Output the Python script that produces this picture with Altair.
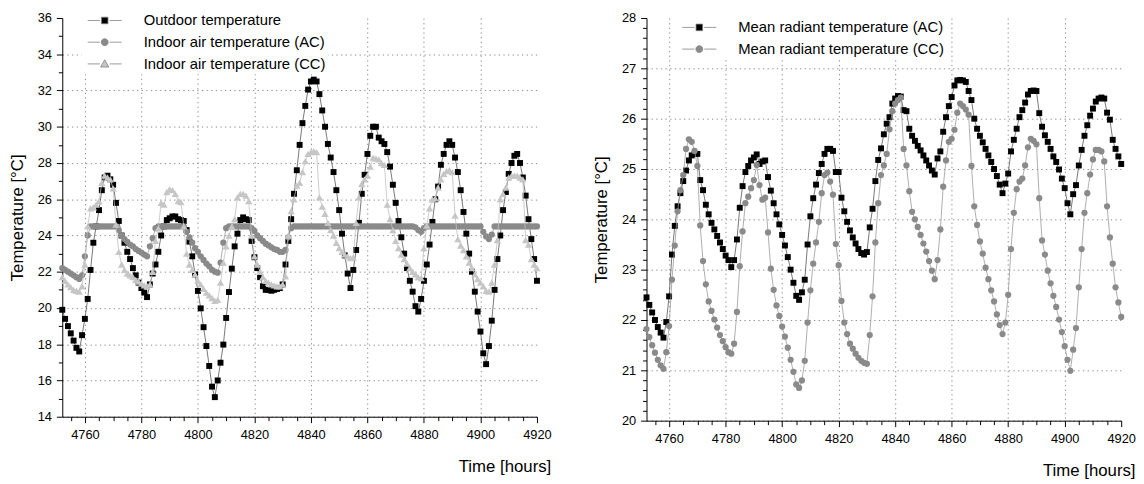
import altair as alt
import pandas as pd

START_HOUR = 4752  # first hourly sample; one value per hour up to 4920

# ---------------- left panel series (hourly, 4752 ... 4920) ----------------
outdoor_temp = [
    19.9, 19.4, 19.0, 18.6, 18.2, 17.8, 17.6, 18.5, 19.4, 20.5,
    22.1, 23.6, 24.5, 25.4, 26.5, 27.2, 27.3, 27.1, 26.8, 25.8,
    24.8, 24.0, 23.6, 23.1, 22.7, 22.2, 21.8, 21.4, 21.1, 20.85,
    20.6, 21.3, 21.9, 22.4, 23.1, 24.0, 24.5, 24.85, 24.95, 25.05,
    25.05, 24.9, 24.85, 24.8, 24.3, 23.66, 22.85, 21.85, 20.94, 19.98,
    18.94, 17.9, 16.8, 15.66, 15.08, 16.0, 16.98, 17.98, 19.45, 20.88,
    22.17, 23.4, 24.1, 24.85, 25.0, 24.9, 24.85, 23.7, 22.8, 22.2,
    21.7, 21.2, 21.0, 21.0, 20.95, 21.0, 21.05, 21.1, 21.3, 22.4,
    23.7, 24.9, 26.3, 27.6, 29.0, 30.2, 31.15, 32.05, 32.5, 32.6,
    32.5, 31.8, 30.9, 30.0, 29.05, 28.3, 27.5, 26.5, 25.4, 24.1,
    22.9, 21.9, 21.1, 22.1, 23.2, 24.7, 26.3, 27.35, 28.5, 29.5,
    30.0, 30.0, 29.4, 29.2, 29.05, 28.6, 27.8, 26.8, 25.8, 24.8,
    23.9, 23.0, 22.2, 21.5, 20.9, 20.1, 19.8, 20.5, 21.5, 22.4,
    23.5, 24.75, 26.0, 26.7, 27.9, 28.5, 29.0, 29.2, 29.0, 28.3,
    27.5, 26.5, 25.3, 24.1, 23.0, 22.0, 20.9, 19.8, 18.7, 17.5,
    16.9, 17.9, 19.3, 21.0, 22.7, 24.0, 25.4, 26.4, 27.4, 28.0,
    28.4, 28.5, 28.0, 27.2, 26.2, 24.9, 23.8, 22.7, 21.5,
]

indoor_ac = [
    22.2, 22.1, 22.0, 21.9, 21.8, 21.7, 21.6, 21.8, 22.85, 24.0,
    24.5, 24.5, 24.5, 24.5, 24.5, 24.5, 24.5, 24.5, 24.5, 24.5,
    24.3, 24.0, 23.8, 23.65, 23.5, 23.4, 23.25, 23.15, 23.05, 22.95,
    22.85, 23.4, 23.85, 24.4, 24.5, 24.5, 24.5, 24.5, 24.5, 24.5,
    24.5, 24.5, 24.5, 24.5, 24.2, 23.9, 23.6, 23.3, 23.1, 22.85,
    22.65, 22.45, 22.3, 22.1, 22.0, 21.95, 22.5, 23.6, 24.4, 24.5,
    24.5, 24.5, 24.5, 24.5, 24.5, 24.5, 24.5, 24.4, 24.25, 24.0,
    23.85, 23.7, 23.55, 23.45, 23.35, 23.25, 23.2, 23.1, 23.1, 23.2,
    23.9, 24.4, 24.5, 24.5, 24.5, 24.5, 24.5, 24.5, 24.5, 24.5,
    24.5, 24.5, 24.5, 24.5, 24.5, 24.5, 24.5, 24.5, 24.5, 24.5,
    24.5, 24.5, 24.5, 24.5, 24.5, 24.5, 24.5, 24.5, 24.5, 24.5,
    24.5, 24.5, 24.5, 24.5, 24.5, 24.5, 24.5, 24.5, 24.5, 24.5,
    24.5, 24.5, 24.5, 24.5, 24.5, 24.45, 24.3, 24.2, 24.4, 24.5,
    24.5, 24.5, 24.5, 24.5, 24.5, 24.5, 24.5, 24.5, 24.5, 24.5,
    24.5, 24.5, 24.5, 24.5, 24.5, 24.5, 24.5, 24.5, 24.5, 24.2,
    23.95, 23.8, 24.05, 24.5, 24.5, 24.5, 24.5, 24.5, 24.5, 24.5,
    24.5, 24.5, 24.5, 24.5, 24.5, 24.5, 24.5, 24.5, 24.5,
]

indoor_cc = [
    21.7, 21.5, 21.3, 21.15, 21.0, 20.95, 20.9, 21.2, 22.4, 24.5,
    25.5, 25.55, 25.7, 25.9, 26.9, 27.3, 27.2, 27.1, 26.6, 24.6,
    23.1, 22.4, 22.1, 21.9, 21.8, 21.7, 21.55, 21.45, 21.35, 21.25,
    21.2, 21.3, 22.0, 23.7, 24.4, 25.8, 25.7, 26.4, 26.55, 26.5,
    26.3, 25.9, 25.85, 24.5, 23.0, 22.4, 22.1, 21.85, 21.5, 21.3,
    21.05, 20.85, 20.7, 20.55, 20.4, 20.45, 21.4, 22.5, 23.4, 24.0,
    24.5, 24.9, 26.1, 26.3, 26.3, 26.2, 25.9, 24.0, 22.85, 22.4,
    22.0, 21.7, 21.5, 21.4, 21.3, 21.25, 21.2, 21.2, 21.3, 21.75,
    24.0, 25.35, 26.0, 26.75, 26.9, 27.5, 28.1, 28.5, 28.6, 28.65,
    28.6, 26.1, 25.6, 25.2, 24.7, 24.3, 24.0, 23.6, 23.3, 23.1,
    22.95, 22.85, 22.75, 22.8, 24.7, 26.1, 26.85, 27.1, 27.3, 27.8,
    28.3, 28.25, 28.2, 28.0, 27.9, 25.7, 24.9, 24.3, 23.7, 23.3,
    22.95, 22.7, 22.45, 22.2, 22.0, 21.85, 21.7, 21.65, 23.3, 24.55,
    25.5, 26.0, 26.05, 26.65, 27.1, 27.4, 27.55, 27.6, 27.5, 25.1,
    23.8, 23.45, 23.2, 22.85, 22.5, 22.2, 21.85, 21.6, 21.4, 21.2,
    20.95, 20.9, 21.4, 22.4, 23.75, 26.0, 26.3, 26.65, 27.2, 27.3,
    27.3, 27.3, 27.2, 27.1, 23.75, 23.5, 22.7, 22.4, 22.2,
]

# ---------------- right panel series (hourly, 4752 ... 4920) ----------------
mrt_ac = [
    22.45, 22.3, 22.15, 22.0, 21.86, 21.75, 21.65, 21.96, 22.47, 23.3,
    23.87, 24.26, 24.52, 24.76, 24.97, 25.17, 25.27, 25.3, 25.3, 24.78,
    24.58, 24.29, 24.1, 23.93, 23.8, 23.67, 23.54, 23.41, 23.28, 23.19,
    23.05, 23.19, 23.6, 24.23, 24.66, 24.94, 25.06, 25.17, 25.23, 25.29,
    25.1, 25.15, 25.17, 24.84, 24.57, 24.32, 24.1, 23.9, 23.69, 23.48,
    23.25, 23.0, 22.74, 22.48, 22.4, 22.55, 22.8, 23.5, 24.06, 24.42,
    24.69, 24.92, 25.1, 25.3, 25.4, 25.4, 25.36, 24.94, 24.94, 24.43,
    24.16, 23.95, 23.78, 23.64, 23.52, 23.41, 23.33, 23.3, 23.35, 23.84,
    24.21, 24.76, 25.18, 25.41, 25.69, 25.9, 26.03, 26.3, 26.4, 26.45,
    26.44, 26.17, 26.15, 25.8, 25.66, 25.56, 25.46, 25.37, 25.27, 25.17,
    25.07, 24.97, 24.89, 25.21, 25.35, 25.74, 26.03, 26.25, 26.43, 26.66,
    26.76, 26.77, 26.76, 26.73, 26.55, 26.37, 26.0, 25.8, 25.66, 25.53,
    25.4, 25.27, 25.14, 25.0, 24.86, 24.69, 24.52, 24.71, 24.91, 25.35,
    25.58, 25.8, 26.03, 26.17, 26.32, 26.48, 26.55, 26.56, 26.55, 26.11,
    25.84, 25.67, 25.54, 25.4, 25.25, 25.14, 24.99, 24.81, 24.62, 24.32,
    24.1, 24.5, 24.68, 25.07, 25.38, 25.66, 25.87, 26.06, 26.2, 26.34,
    26.4, 26.42, 26.4, 26.12, 25.98, 25.58, 25.4, 25.25, 25.1,
]

mrt_cc = [
    21.82, 21.66, 21.5, 21.35, 21.21, 21.1, 21.03, 21.36, 21.88, 22.8,
    23.48, 24.16, 24.58, 24.88, 25.4, 25.59, 25.54, 25.36, 25.06, 23.88,
    23.17, 22.71, 22.37, 22.18, 22.01, 21.85, 21.7, 21.58, 21.46, 21.36,
    21.33, 21.53, 22.16, 23.07, 23.76, 24.32, 24.45, 24.62, 24.78, 25.08,
    24.68, 24.39, 24.43, 23.74, 23.02, 22.6, 22.29, 22.08, 21.87, 21.67,
    21.45, 21.21, 20.97, 20.72, 20.65, 20.8, 21.19, 21.95, 22.59, 23.12,
    23.54, 23.95, 24.52, 24.88, 24.93, 24.75, 24.49, 23.51, 23.09, 22.38,
    21.95, 21.72, 21.53, 21.43, 21.33, 21.25, 21.19, 21.15, 21.13, 21.7,
    22.47, 23.54, 24.32, 24.88, 25.07, 25.3, 25.79, 26.15, 26.3, 26.37,
    26.42, 25.4, 25.07, 24.56, 24.15, 24.0, 23.85, 23.69, 23.52, 23.36,
    23.17, 22.98, 22.81, 23.19, 23.8, 24.65, 25.17, 25.54, 25.6, 25.78,
    26.12, 26.3, 26.25, 26.18, 26.08, 25.06, 24.26, 23.89, 23.56, 23.32,
    23.04, 22.81, 22.59, 22.37, 22.11, 21.9, 21.72, 21.95, 22.5, 23.41,
    24.13, 24.6, 24.75, 24.81, 25.07, 25.43, 25.6, 25.56, 25.49, 24.42,
    23.58, 23.3, 22.98, 22.73, 22.48, 22.26, 22.01, 21.76, 21.48, 21.21,
    20.99, 21.41, 21.84, 22.65, 23.41, 24.13, 24.52, 24.89, 25.19, 25.38,
    25.38, 25.35, 25.15, 24.26, 23.64, 23.12, 22.65, 22.35, 22.06,
]

LEFT_NAMES = ["Outdoor temperature", "Indoor air temperature (AC)", "Indoor air temperature (CC)"]
RIGHT_NAMES = ["Mean radiant temperature (AC)", "Mean radiant temperature (CC)"]

X_DOMAIN = [4752, 4920]
X_MAJOR = [4760, 4780, 4800, 4820, 4840, 4860, 4880, 4900, 4920]
LEFT_Y_MAJOR = [14, 16, 18, 20, 22, 24, 26, 28, 30, 32, 34, 36]
RIGHT_Y_MAJOR = [20, 21, 22, 23, 24, 25, 26, 27, 28]

TICK_FONT = "Liberation Sans Narrow, Arial Narrow, Liberation Sans, Arial, sans-serif"
TEXT_FONT = "Liberation Sans, Arial, Helvetica, sans-serif"

# legend symbols: short line - marker - short line
P_SQUARE = "M-5.2,0H-1.5M1.5,0H5.2M-1,-1H1V1H-1Z"
P_CIRCLE = "M-5.2,0H-1.5M1.5,0H5.2M-1.05,0A1.05,1.05 0 1,1 1.05,0A1.05,1.05 0 1,1 -1.05,0Z"
P_TRIANGLE = "M-5.2,0H-1.5M1.5,0H5.2M0,-1.25L1.25,0.95H-1.25Z"

STYLES = {
    "Outdoor temperature": dict(shape="square", fill="#000000", line="#555555", size=36, path=P_SQUARE),
    "Indoor air temperature (AC)": dict(shape="circle", fill="#8a8a8a", line="#9a9a9a", size=40, path=P_CIRCLE),
    "Indoor air temperature (CC)": dict(shape="triangle-up", fill="#c6c6c6", line="#c0c0c0", size=55, path=P_TRIANGLE),
    "Mean radiant temperature (AC)": dict(shape="square", fill="#000000", line="#555555", size=36, path=P_SQUARE),
    "Mean radiant temperature (CC)": dict(shape="circle", fill="#8a8a8a", line="#9a9a9a", size=40, path=P_CIRCLE),
}


def to_long(names, series):
    rows = []
    for name, vals in zip(names, series):
        for i, v in enumerate(vals):
            rows.append({"hour": START_HOUR + i, "value": v, "series": name})
    return pd.DataFrame(rows)


def panel(names, series, ydomain, ymajor, yminor, width, height, lx, ly):
    df = to_long(names, series)
    xs = alt.Scale(domain=X_DOMAIN, nice=False, zero=False)
    ys = alt.Scale(domain=ydomain, nice=False, zero=False)
    x_minor = [h for h in range(4755, 4921, 5) if h % 20 != 0]

    xaxis = alt.Axis(
        values=X_MAJOR, format="d", orient="bottom", title="Time [hours]",
        grid=True,
        gridOpacity={"condition": {"test": "datum.value >= 4920", "value": 0}, "value": 1},
        labelPadding=6, titleX=width + 14, titleY=56, titleAlign="right",
        titleAnchor="end", titleBaseline="alphabetic",
    )
    yaxis = alt.Axis(
        values=ymajor, format="d", orient="left", title="Temperature [°C]",
        grid=True,
        gridOpacity={"condition": {"test": f"datum.value >= {ydomain[1]}", "value": 0}, "value": 1},
        labelPadding=5, titlePadding=11,
    )

    layers = []
    for name in names:
        st = STYLES[name]
        base = alt.Chart(df).transform_filter(alt.datum.series == name).encode(
            x=alt.X("hour:Q", scale=xs, axis=xaxis),
            y=alt.Y("value:Q", scale=ys, axis=yaxis),
        )
        layers.append(base.mark_line(color=st["line"], strokeWidth=0.8))
        layers.append(base.mark_point(shape=st["shape"], filled=True, fill=st["fill"],
                                      size=st["size"], opacity=1, strokeWidth=0))
    main = alt.layer(*layers)

    minor_x_axis = alt.Axis(values=x_minor, labels=False, grid=False, domain=False,
                            ticks=True, tickSize=4, orient="bottom", title=None)
    minor_y_axis = alt.Axis(values=yminor, labels=False, grid=False, domain=False,
                            ticks=True, tickSize=4, orient="left", title=None)

    legend = alt.Legend(
        orient="none", legendX=lx, legendY=ly, title=None,
        labelFont=TEXT_FONT, labelFontSize=15, labelColor="#000000",
        symbolSize=44, symbolStrokeWidth=0.8,
        symbolOffset=14, labelOffset=32, rowPadding=6, padding=2,
        fillColor="white", labelLimit=500, symbolOpacity=1,
    )
    leg = alt.Chart(df).transform_filter("false").mark_point(filled=True, opacity=1).encode(
        x=alt.X("hour:Q", scale=xs, axis=minor_x_axis),
        y=alt.Y("value:Q", scale=ys, axis=minor_y_axis),
        color=alt.Color("series:N", scale=alt.Scale(domain=names, range=[STYLES[n]["fill"] for n in names]),
                        legend=legend),
        shape=alt.Shape("series:N", scale=alt.Scale(domain=names, range=[STYLES[n]["path"] for n in names]),
                        legend=legend),
        stroke=alt.Stroke("series:N", scale=alt.Scale(domain=names, range=["#808080" for n in names]),
                          legend=legend),
    )
    return alt.layer(main, leg).resolve_axis(x="independent", y="independent").properties(
        width=width, height=height)


left_minor = [v for v in range(15, 36, 2)]
right_minor = [round(20 + 0.2 * i, 1) for i in range(41) if i % 5 != 0]

left = panel(LEFT_NAMES, [outdoor_temp, indoor_ac, indoor_cc], [14, 36], LEFT_Y_MAJOR,
             left_minor, 481, 404, 19.5, -7)
right = panel(RIGHT_NAMES, [mrt_ac, mrt_cc], [20, 28], RIGHT_Y_MAJOR,
              right_minor, 481, 408, 30, 0)

chart = alt.hconcat(
    left, right, spacing=111, bounds="flush", padding=0, background="white"
).resolve_scale(
    color="independent", shape="independent", stroke="independent"
).configure_view(stroke=None).configure_axis(
    domainColor="#000000", domainWidth=1, tickColor="#000000", tickWidth=1, tickSize=6,
    labelColor="#000000", labelFont=TICK_FONT, labelFontSize=13,
    titleColor="#000000", titleFont=TEXT_FONT, titleFontSize=17, titleFontWeight="normal",
    gridColor="#8a8a8a", gridDash=[1.3, 3.4], gridWidth=1,
    labelOverlap=False, labelFlush=False,
)

chart.save("out.html", embed_options={"renderer": "svg", "actions": False})
